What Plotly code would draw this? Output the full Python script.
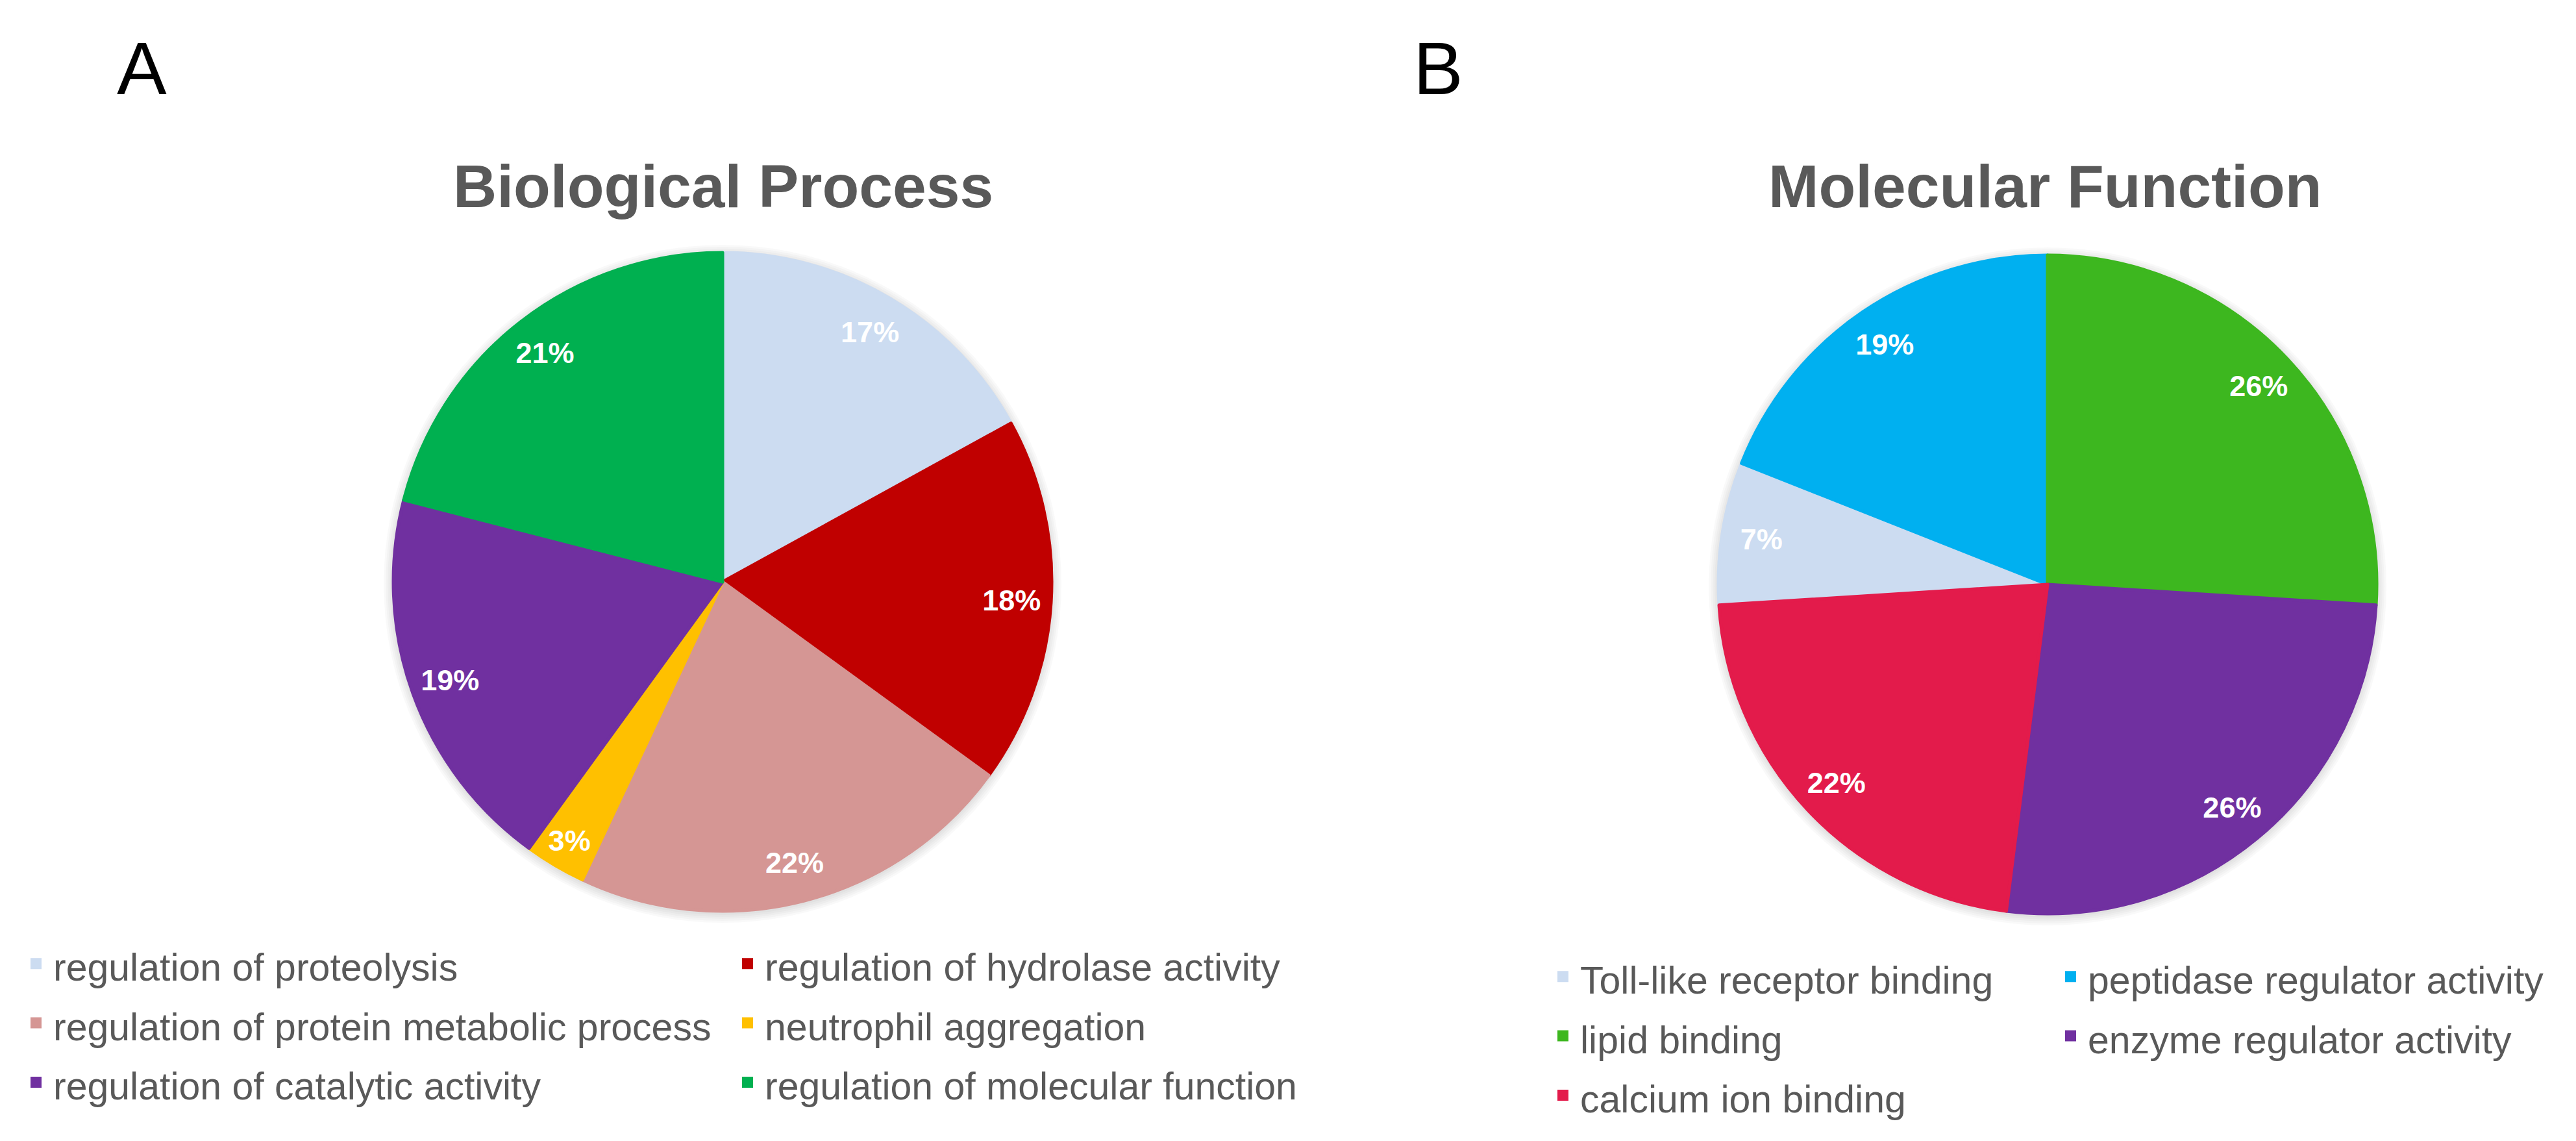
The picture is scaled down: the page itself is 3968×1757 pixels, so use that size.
import plotly.graph_objects as go

# ---------------- data ----------------
bp_labels = ["regulation of proteolysis", "regulation of hydrolase activity",
             "regulation of protein metabolic process", "neutrophil aggregation",
             "regulation of catalytic activity", "regulation of molecular function"]
bp_values = [17, 18, 22, 3, 19, 21]
bp_colors = ["#CCDCF1", "#C00000", "#D59694", "#FFC000", "#7030A0", "#00B050"]

mf_labels = ["Toll-like receptor binding", "peptidase regulator activity", "lipid binding",
             "enzyme regulator activity", "calcium ion binding"]
mf_values = [7, 19, 26, 26, 22]
mf_colors = ["#CCDCF1", "#00B0F0", "#3DB71F", "#7030A0", "#E31B4B"]

panel_letters = ["A", "B"]
panel_titles = ["Biological Process", "Molecular Function"]

# ---------------- layout helpers ----------------
W, H = 3968, 1757
ML, MR, MT, MB = 560, 268, 0, 0
GW, GH = W - ML - MR, H - MT - MB


def px_x(x):
    return (x - ML) / GW


def px_y(y):
    return (H - MB - y) / GH


def domain(cx, cy, r):
    return dict(x=[px_x(cx - r), px_x(cx + r)], y=[px_y(cy + r), px_y(cy - r)])


FONT = "Liberation Sans, Arial, sans-serif"
GRAY = "#595959"
R = 507
centers = [(1105, 888), (3146, 892)]

rotB = -360 * sum(mf_values[:2]) / sum(mf_values)


def legend_labels(labels):
    return [f"<span style='font-size:59px'>{l}</span>" for l in labels]


fig = go.Figure()

# soft halo behind each pie
for cx, cy in centers:
    for k in range(1, 6):
        fig.add_trace(go.Pie(
            labels=["halo"], values=[1], sort=False,
            marker=dict(colors=["rgba(0,0,0,0.022)"], line=dict(width=0)),
            textinfo="none", hoverinfo="skip", showlegend=False,
            domain=domain(cx, cy + 3, R + 3 * k),
        ))

for labels, values, colors, (cx, cy), rot, lg in [
    (bp_labels, bp_values, bp_colors, centers[0], 0, "legend"),
    (mf_labels, mf_values, mf_colors, centers[1], rotB, "legend2"),
]:
    disp = legend_labels(labels)
    dom = domain(cx, cy, R)
    # filled pie
    fig.add_trace(go.Pie(
        labels=disp, values=values, sort=False, direction="clockwise", rotation=rot,
        marker=dict(colors=colors, line=dict(color=colors, width=5)),
        textinfo="none", hoverinfo="skip", domain=dom, legend=lg, showlegend=True,
    ))
    # transparent ring carrying the percentage labels near the outer edge
    fig.add_trace(go.Pie(
        labels=disp, values=values, sort=False, direction="clockwise", rotation=rot,
        hole=0.76,
        marker=dict(colors=["rgba(0,0,0,0)"] * len(values), line=dict(width=0)),
        texttemplate="<b>%{percent:.0%}</b>", textposition="inside",
        insidetextorientation="horizontal",
        insidetextfont=dict(color="white", size=45, family=FONT),
        textfont=dict(color="white", size=45, family=FONT),
        hoverinfo="skip", showlegend=False, domain=dom,
    ))

legend_common = dict(
    orientation="h", entrywidthmode="pixels", itemwidth=43,
    xanchor="right", yanchor="top",
    font=dict(size=68, color=GRAY, family=FONT),
    bgcolor="rgba(0,0,0,0)", borderwidth=0, traceorder="normal",
)

annotations = [
    dict(text=panel_letters[0], x=px_x(170), y=px_y(97), xanchor="left", yanchor="middle",
         font=dict(size=115, color="black", family=FONT)),
    dict(text=panel_letters[1], x=px_x(2167), y=px_y(97), xanchor="left", yanchor="middle",
         font=dict(size=115, color="black", family=FONT)),
    dict(text=f"<b>{panel_titles[0]}</b>", x=px_x(1106), y=px_y(279), xanchor="center",
         yanchor="middle", font=dict(size=93, color=GRAY, family=FONT)),
    dict(text=f"<b>{panel_titles[1]}</b>", x=px_x(3142), y=px_y(279), xanchor="center",
         yanchor="middle", font=dict(size=93, color=GRAY, family=FONT)),
]
for a in annotations:
    a.update(xref="paper", yref="paper", showarrow=False)

fig.update_layout(
    width=W, height=H,
    margin=dict(l=ML, r=MR, t=MT, b=MB, autoexpand=False),
    paper_bgcolor="white", plot_bgcolor="white",
    legend=dict(legend_common, entrywidth=1038, x=px_x(2213), y=px_y(1425)),
    legend2=dict(legend_common, entrywidth=724, x=px_x(3937), y=px_y(1445)),
    annotations=annotations,
)

fig.write_html("out.html")
